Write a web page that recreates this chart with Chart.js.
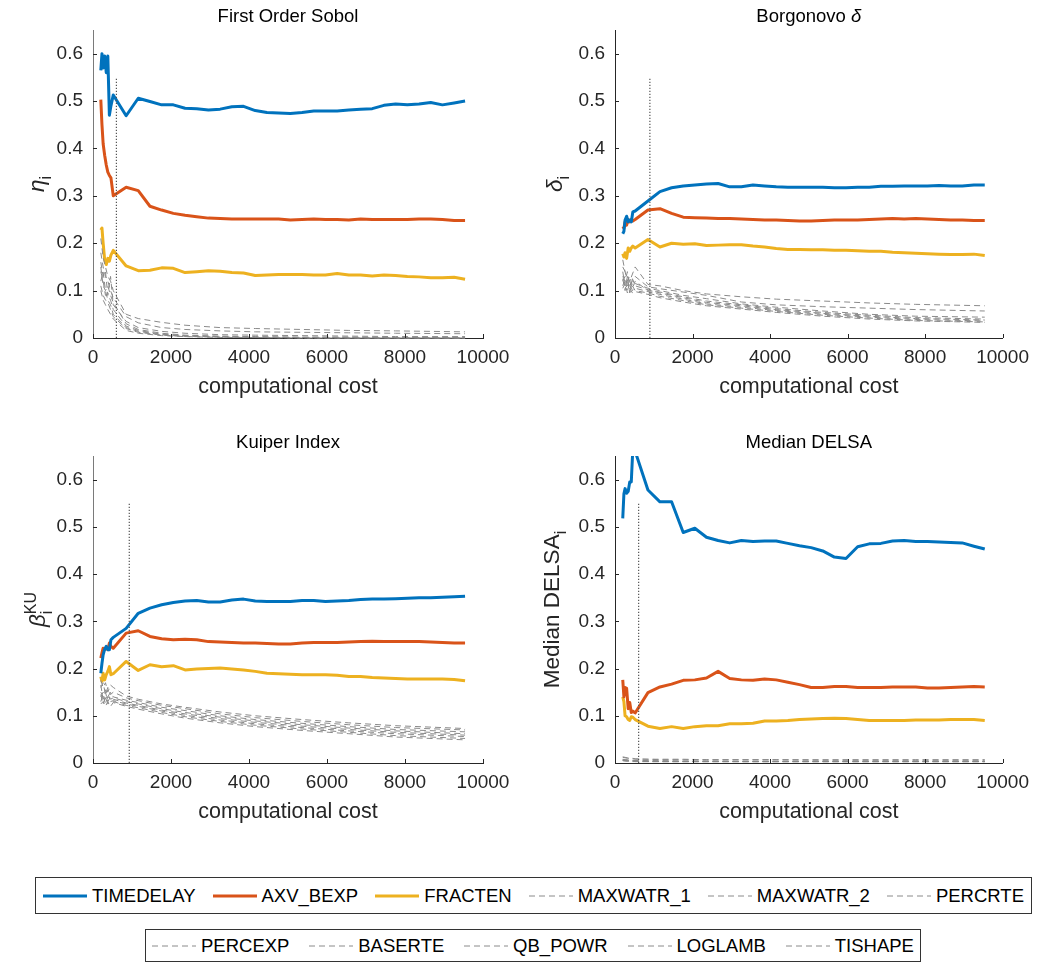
<!DOCTYPE html>
<html>
<head>
<meta charset="utf-8">
<script src="https://cdn.jsdelivr.net/npm/chart.js@4.4.1/dist/chart.umd.min.js"></script>
<style>
body { margin: 0; background: #fff; width: 1037px; height: 962px; position: relative; overflow: hidden; font-family: 'Liberation Sans', Arial, sans-serif; }
canvas { position: absolute; }
.legend { position: absolute; box-sizing: border-box; border: 1px solid #333; background: #fff; display: flex; align-items: center; justify-content: space-between; }
.item { display: flex; align-items: center; font-size: 18.5px; color: #000; white-space: nowrap; }
.item svg { margin-right: 5px; }
</style>
</head>
<body>
<canvas id="sobol"></canvas>
<canvas id="borg"></canvas>
<canvas id="kuiper"></canvas>
<canvas id="delsa"></canvas>
<div class="legend" id="legend1" style="left:35px;top:877px;width:997px;height:37px;padding:0 7px;"></div>
<div class="legend" id="legend2" style="left:145px;top:929px;width:776px;height:33px;padding:0 6px;"></div>
<script>
const FONT = "'Liberation Sans', Arial, Helvetica, sans-serif";

const NAMES = ['TIMEDELAY', 'AXV_BEXP', 'FRACTEN', 'MAXWATR_1', 'MAXWATR_2', 'PERCRTE',
               'PERCEXP', 'BASERTE', 'QB_POWR', 'LOGLAMB', 'TISHAPE'];
const MAIN_COLORS = ['#0072BD', '#D95319', '#EDB120'];
const GRAY = '#8a8a8a';

const X_TICKS = [0, 2000, 4000, 6000, 8000, 10000];
const Y_TICKS = [0, 0.1, 0.2, 0.3, 0.4, 0.5, 0.6];

// computational cost for the three main lines
const X = [200, 230, 260, 300, 340, 380, 420, 460, 520, 850, 1160, 1460, 1760, 2060, 2360, 2660, 2960, 3260, 3560, 3860,
           4160, 4460, 4760, 5060, 5360, 5660, 5960, 6260, 6560, 6860, 7160, 7460, 7760, 8060, 8360, 8660, 8960, 9260, 9540];
// coarser cost grid for the grey (other parameter) lines
const GX = [200, 260, 320, 380, 450, 520, 850, 1160, 1760, 2360, 3260, 4160, 5360, 6560, 7760, 9540];

// cost at which the dotted line is drawn, per panel
const DOT_X = [600, 900, 930, 610];
const DOT_TOP = 0.55;

// First Order Sobol
const sobolTimedelay = [0.565, 0.600, 0.570, 0.595, 0.560, 0.595, 0.470, 0.490, 0.513, 0.469, 0.506, 0.499, 0.492, 0.492, 0.485, 0.484, 0.481, 0.483, 0.488, 0.489,
                        0.480, 0.476, 0.475, 0.474, 0.476, 0.479, 0.479, 0.479, 0.481, 0.483, 0.484, 0.491, 0.494, 0.492, 0.494, 0.497, 0.492, 0.496, 0.500];
const sobolAxv = [0.503, 0.450, 0.410, 0.385, 0.365, 0.350, 0.343, 0.338, 0.300, 0.318, 0.311, 0.278, 0.270, 0.263, 0.259, 0.256, 0.253, 0.252, 0.251, 0.251,
                  0.251, 0.251, 0.251, 0.249, 0.250, 0.251, 0.250, 0.250, 0.249, 0.251, 0.250, 0.250, 0.250, 0.250, 0.251, 0.251, 0.250, 0.248, 0.248];
const sobolFracten = [0.228, 0.232, 0.200, 0.165, 0.155, 0.168, 0.162, 0.175, 0.185, 0.152, 0.142, 0.143, 0.148, 0.147, 0.138, 0.140, 0.142, 0.141, 0.138, 0.137,
                      0.132, 0.133, 0.134, 0.134, 0.134, 0.133, 0.133, 0.136, 0.133, 0.133, 0.131, 0.133, 0.132, 0.130, 0.129, 0.127, 0.127, 0.128, 0.124];
const sobolOthers = [
  [0.21, 0.17, 0.15, 0.13, 0.12, 0.10, 0.050, 0.041, 0.033, 0.027, 0.022, 0.020, 0.018, 0.016, 0.015, 0.013],
  [0.18, 0.15, 0.13, 0.12, 0.10, 0.085, 0.045, 0.032, 0.022, 0.018, 0.015, 0.013, 0.012, 0.011, 0.010, 0.009],
  [0.16, 0.13, 0.14, 0.09, 0.13, 0.07, 0.035, 0.022, 0.014, 0.010, 0.007, 0.006, 0.005, 0.004, 0.003, 0.003],
  [0.15, 0.11, 0.10, 0.11, 0.09, 0.075, 0.030, 0.018, 0.010, 0.006, 0.004, 0.003, 0.002, 0.002, 0.001, 0.001],
  [0.14, 0.12, 0.09, 0.09, 0.08, 0.06, 0.025, 0.016, 0.008, 0.005, 0.003, 0.002, 0.001, 0.001, 0.001, 0.000],
  [0.12, 0.14, 0.10, 0.08, 0.07, 0.05, 0.022, 0.014, 0.007, 0.004, 0.002, 0.001, 0.001, 0.000, 0.000, 0.000],
  [0.11, 0.09, 0.08, 0.075, 0.06, 0.045, 0.020, 0.012, 0.006, 0.003, 0.002, 0.001, 0.000, 0.000, 0.000, 0.000],
  [0.10, 0.08, 0.07, 0.06, 0.05, 0.04, 0.016, 0.010, 0.005, 0.003, 0.001, 0.001, 0.000, 0.000, 0.000, 0.000]
];

// Borgonovo delta
const borgTimedelay = [0.220, 0.225, 0.249, 0.257, 0.245, 0.249, 0.245, 0.266, 0.268, 0.289, 0.309, 0.317, 0.321, 0.323, 0.325, 0.326, 0.319, 0.319, 0.323, 0.321,
                       0.319, 0.318, 0.318, 0.318, 0.318, 0.317, 0.317, 0.318, 0.318, 0.320, 0.320, 0.321, 0.321, 0.321, 0.322, 0.321, 0.321, 0.323, 0.323];
const borgAxv = [0.235, 0.232, 0.245, 0.238, 0.250, 0.245, 0.250, 0.247, 0.250, 0.270, 0.273, 0.263, 0.255, 0.254, 0.253, 0.252, 0.252, 0.251, 0.250, 0.249,
                 0.249, 0.248, 0.247, 0.247, 0.248, 0.249, 0.249, 0.249, 0.250, 0.251, 0.252, 0.251, 0.252, 0.251, 0.250, 0.249, 0.249, 0.248, 0.248];
const borgFracten = [0.178, 0.171, 0.180, 0.168, 0.190, 0.183, 0.190, 0.194, 0.190, 0.208, 0.192, 0.200, 0.198, 0.199, 0.195, 0.196, 0.197, 0.197, 0.194, 0.192,
                     0.189, 0.187, 0.187, 0.186, 0.186, 0.185, 0.185, 0.184, 0.183, 0.183, 0.181, 0.180, 0.179, 0.178, 0.177, 0.176, 0.176, 0.177, 0.174];
const borgOthers = [
  [0.150, 0.140, 0.130, 0.120, 0.135, 0.150, 0.113, 0.110, 0.100, 0.093, 0.087, 0.082, 0.078, 0.074, 0.071, 0.068],
  [0.130, 0.120, 0.140, 0.110, 0.120, 0.130, 0.108, 0.104, 0.097, 0.090, 0.076, 0.070, 0.066, 0.063, 0.060, 0.057],
  [0.165, 0.140, 0.120, 0.130, 0.110, 0.115, 0.105, 0.100, 0.090, 0.083, 0.072, 0.065, 0.057, 0.050, 0.046, 0.044],
  [0.120, 0.130, 0.110, 0.120, 0.105, 0.120, 0.100, 0.097, 0.087, 0.078, 0.070, 0.062, 0.054, 0.048, 0.043, 0.040],
  [0.140, 0.110, 0.120, 0.100, 0.125, 0.110, 0.102, 0.095, 0.085, 0.075, 0.068, 0.060, 0.052, 0.046, 0.041, 0.038],
  [0.110, 0.125, 0.100, 0.115, 0.100, 0.105, 0.098, 0.092, 0.082, 0.072, 0.065, 0.058, 0.050, 0.044, 0.039, 0.036],
  [0.125, 0.100, 0.130, 0.095, 0.110, 0.100, 0.095, 0.088, 0.079, 0.070, 0.063, 0.056, 0.048, 0.042, 0.037, 0.034],
  [0.105, 0.115, 0.095, 0.105, 0.095, 0.098, 0.092, 0.085, 0.076, 0.068, 0.061, 0.054, 0.046, 0.040, 0.036, 0.033]
];

// Kuiper index
const kuiperTimedelay = [0.190, 0.211, 0.229, 0.241, 0.247, 0.240, 0.240, 0.261, 0.266, 0.285, 0.317, 0.328, 0.335, 0.340, 0.343, 0.344, 0.341, 0.341, 0.345, 0.347,
                         0.343, 0.342, 0.342, 0.342, 0.344, 0.344, 0.342, 0.343, 0.344, 0.346, 0.347, 0.347, 0.348, 0.349, 0.350, 0.350, 0.351, 0.352, 0.353];
const kuiperAxv = [0.222, 0.233, 0.243, 0.240, 0.243, 0.240, 0.254, 0.247, 0.243, 0.275, 0.280, 0.268, 0.263, 0.261, 0.262, 0.261, 0.257, 0.256, 0.255, 0.254,
                   0.254, 0.253, 0.252, 0.252, 0.254, 0.255, 0.255, 0.255, 0.256, 0.257, 0.258, 0.257, 0.257, 0.257, 0.257, 0.256, 0.255, 0.254, 0.254];
const kuiperFracten = [0.183, 0.173, 0.190, 0.176, 0.187, 0.194, 0.204, 0.187, 0.189, 0.215, 0.196, 0.208, 0.204, 0.206, 0.197, 0.199, 0.200, 0.201, 0.199, 0.197,
                       0.194, 0.190, 0.189, 0.188, 0.187, 0.187, 0.187, 0.186, 0.183, 0.183, 0.181, 0.180, 0.179, 0.178, 0.178, 0.178, 0.178, 0.177, 0.174];
const kuiperOthers = [
  [0.175, 0.160, 0.170, 0.150, 0.165, 0.160, 0.142, 0.135, 0.125, 0.118, 0.108, 0.100, 0.092, 0.085, 0.079, 0.073],
  [0.160, 0.170, 0.145, 0.160, 0.145, 0.150, 0.138, 0.132, 0.122, 0.115, 0.104, 0.096, 0.088, 0.081, 0.075, 0.070],
  [0.150, 0.140, 0.155, 0.140, 0.150, 0.140, 0.133, 0.128, 0.118, 0.111, 0.100, 0.092, 0.084, 0.077, 0.071, 0.066],
  [0.140, 0.150, 0.135, 0.145, 0.135, 0.138, 0.130, 0.125, 0.115, 0.107, 0.097, 0.089, 0.081, 0.074, 0.068, 0.062],
  [0.165, 0.135, 0.150, 0.130, 0.140, 0.135, 0.127, 0.122, 0.112, 0.104, 0.094, 0.086, 0.078, 0.071, 0.065, 0.059],
  [0.130, 0.145, 0.125, 0.140, 0.130, 0.132, 0.125, 0.120, 0.110, 0.101, 0.091, 0.083, 0.075, 0.068, 0.062, 0.056],
  [0.145, 0.125, 0.140, 0.125, 0.128, 0.130, 0.122, 0.117, 0.107, 0.098, 0.088, 0.080, 0.072, 0.065, 0.058, 0.052],
  [0.125, 0.130, 0.120, 0.130, 0.120, 0.128, 0.120, 0.114, 0.104, 0.095, 0.085, 0.077, 0.069, 0.062, 0.055, 0.049]
];

// Median DELSA
const delsaTimedelay = [0.518, 0.570, 0.581, 0.571, 0.575, 0.595, 0.595, 0.665, 0.660, 0.578, 0.553, 0.553, 0.488, 0.497, 0.478, 0.471, 0.466, 0.471, 0.469, 0.470,
                        0.470, 0.465, 0.460, 0.456, 0.449, 0.436, 0.433, 0.458, 0.464, 0.465, 0.470, 0.471, 0.469, 0.469, 0.468, 0.467, 0.466, 0.459, 0.453];
const delsaAxv = [0.176, 0.140, 0.160, 0.158, 0.115, 0.128, 0.107, 0.110, 0.106, 0.149, 0.161, 0.167, 0.175, 0.176, 0.180, 0.194, 0.179, 0.176, 0.175, 0.178,
                  0.176, 0.171, 0.166, 0.160, 0.160, 0.162, 0.162, 0.160, 0.160, 0.160, 0.161, 0.161, 0.161, 0.159, 0.159, 0.160, 0.161, 0.162, 0.161];
const delsaFracten = [0.140, 0.130, 0.100, 0.098, 0.092, 0.090, 0.098, 0.097, 0.092, 0.078, 0.073, 0.077, 0.073, 0.077, 0.079, 0.079, 0.083, 0.083, 0.084, 0.089,
                      0.089, 0.090, 0.092, 0.093, 0.094, 0.095, 0.094, 0.092, 0.090, 0.090, 0.090, 0.090, 0.091, 0.091, 0.091, 0.092, 0.092, 0.092, 0.090];
const delsaOthers = [
  [0.013, 0.012, 0.011, 0.010, 0.010, 0.009, 0.008, 0.008, 0.008, 0.007, 0.007, 0.007, 0.007, 0.007, 0.007, 0.007],
  [0.012, 0.011, 0.010, 0.009, 0.009, 0.008, 0.008, 0.007, 0.007, 0.007, 0.007, 0.007, 0.006, 0.006, 0.006, 0.006],
  [0.008, 0.007, 0.007, 0.006, 0.006, 0.005, 0.005, 0.005, 0.004, 0.004, 0.004, 0.004, 0.004, 0.004, 0.004, 0.004],
  [0.007, 0.006, 0.006, 0.005, 0.005, 0.005, 0.004, 0.004, 0.004, 0.004, 0.003, 0.003, 0.003, 0.003, 0.003, 0.003],
  [0.006, 0.006, 0.005, 0.005, 0.004, 0.004, 0.004, 0.003, 0.003, 0.003, 0.003, 0.003, 0.003, 0.003, 0.003, 0.003],
  [0.006, 0.005, 0.005, 0.004, 0.004, 0.004, 0.003, 0.003, 0.003, 0.003, 0.003, 0.003, 0.003, 0.003, 0.003, 0.003],
  [0.005, 0.005, 0.004, 0.004, 0.004, 0.003, 0.003, 0.003, 0.003, 0.003, 0.003, 0.003, 0.003, 0.003, 0.003, 0.003],
  [0.005, 0.004, 0.004, 0.004, 0.003, 0.003, 0.003, 0.003, 0.003, 0.003, 0.003, 0.003, 0.003, 0.003, 0.003, 0.003]
];

// draws a short text made of parts (italic / subscript / superscript), optionally rotated
function drawRich(ctx, parts, cx, cy, size, vertical, color) {
    const small = Math.round(size * 0.72);
    let width = 0, prevStart = 0;
    const items = parts.map(p => {
        ctx.font = (p.it ? 'italic ' : '') + ((p.sub || p.sup) ? small : size) + 'px ' + FONT;
        const w = ctx.measureText(p.t).width;
        const start = p.stack ? prevStart : width;
        const dy = p.sub ? size * 0.3 : (p.sup ? -size * 0.42 : 0);
        width = Math.max(width, start + w);
        prevStart = start;
        return { t: p.t, font: ctx.font, start, dy };
    });
    ctx.save();
    ctx.translate(cx, cy);
    if (vertical) ctx.rotate(-Math.PI / 2);
    ctx.fillStyle = color;
    ctx.textBaseline = 'alphabetic';
    ctx.textAlign = 'left';
    items.forEach(it => {
        ctx.font = it.font;
        ctx.fillText(it.t, it.start - width / 2, it.dy + size * 0.36);
    });
    ctx.restore();
}

const decor = {
    id: 'decor',
    afterDraw(chart, args, opts) {
        const { ctx, chartArea: a, scales } = chart;
        ctx.save();
        ctx.strokeStyle = '#262626';
        ctx.lineWidth = 1;
        ctx.beginPath();
        X_TICKS.forEach(v => {
            const px = Math.round(scales.x.getPixelForValue(v)) + 0.5;
            ctx.moveTo(px, a.bottom);
            ctx.lineTo(px, a.bottom - 4);
        });
        Y_TICKS.forEach(v => {
            const py = Math.round(scales.y.getPixelForValue(v)) + 0.5;
            ctx.moveTo(a.left, py);
            ctx.lineTo(a.left + 4, py);
        });
        ctx.stroke();
        ctx.restore();
        drawRich(ctx, opts.title, (a.left + a.right) / 2, a.top - 15, 18.5, false, '#000');
        drawRich(ctx, opts.ylabel, a.left - opts.labelGap, (a.top + a.bottom) / 2, 22.5, true, '#262626');
    }
};

function lineData(xs, vals) {
    return xs.map((x, i) => ({ x, y: vals[i] }));
}

function makePanel(id, pos, main, others, dotX, title, ylabel, axisColor) {
    const canvas = document.getElementById(id);
    canvas.width = pos.w;
    canvas.height = pos.h;
    canvas.style.left = pos.left + 'px';
    canvas.style.top = pos.top + 'px';
    canvas.style.width = pos.w + 'px';
    canvas.style.height = pos.h + 'px';

    const clip = { left: 4, top: 0, right: 4, bottom: 3 };
    const datasets = [{
        data: [{ x: dotX, y: 0 }, { x: dotX, y: DOT_TOP }],
        borderColor: '#555', borderWidth: 1.2, borderDash: [1.2, 1.8], clip
    }];
    others.forEach(vals => datasets.push({
        data: lineData(GX, vals), borderColor: GRAY, borderWidth: 1, borderDash: [6, 4], clip
    }));
    main.forEach((vals, i) => datasets.push({
        data: lineData(X, vals), borderColor: MAIN_COLORS[i], borderWidth: 3, clip
    }));

    const tickFont = { family: FONT, size: 19 };
    new Chart(canvas, {
        type: 'line',
        data: { datasets },
        options: {
            responsive: false,
            animation: false,
            devicePixelRatio: 1,
            layout: { padding: pos.pad },
            elements: { point: { radius: 0 }, line: { tension: 0, borderCapStyle: 'butt', borderJoinStyle: 'round' } },
            plugins: {
                legend: { display: false },
                tooltip: { enabled: false },
                decor: { title, ylabel, labelGap: pos.labelGap }
            },
            scales: {
                x: {
                    type: 'linear', min: 0, max: 10000,
                    afterBuildTicks: s => { s.ticks = X_TICKS.map(v => ({ value: v })); },
                    afterFit: s => { s.height = 62; },
                    grid: { display: false, drawTicks: false },
                    border: { display: true, color: '#262626', width: 1 },
                    ticks: { padding: 8, color: '#262626', font: tickFont, maxRotation: 0, autoSkip: false, callback: v => String(v) },
                    title: { display: true, text: 'computational cost', color: '#262626', font: { family: FONT, size: 21.5 }, padding: { top: 0, bottom: 0 } }
                },
                y: {
                    type: 'linear', min: 0, max: 0.65,
                    afterBuildTicks: s => { s.ticks = Y_TICKS.map(v => ({ value: v })); },
                    afterFit: s => { s.width = pos.yw; },
                    grid: { display: false, drawTicks: false },
                    border: { display: true, color: axisColor, width: 1 },
                    ticks: { padding: 10, color: '#262626', font: tickFont, callback: v => String(v) }
                }
            }
        },
        plugins: [decor]
    });
}

makePanel('sobol', { left: 0, top: 0, w: 518, h: 420, yw: 93, labelGap: 57, pad: { left: 0, top: 30, right: 35, bottom: 20 } },
    [sobolTimedelay, sobolAxv, sobolFracten], sobolOthers, DOT_X[0],
    [{ t: 'First Order Sobol' }], [{ t: 'η', it: 1 }, { t: 'i', sub: 1 }], '#7a7a7a');

makePanel('borg', { left: 518, top: 0, w: 519, h: 420, yw: 97, labelGap: 61, pad: { left: 0, top: 30, right: 34, bottom: 20 } },
    [borgTimedelay, borgAxv, borgFracten], borgOthers, DOT_X[1],
    [{ t: 'Borgonovo ' }, { t: 'δ', it: 1 }], [{ t: 'δ', it: 1 }, { t: 'i', sub: 1 }], '#262626');

makePanel('kuiper', { left: 0, top: 420, w: 518, h: 442, yw: 93, labelGap: 56, pad: { left: 0, top: 36, right: 35, bottom: 37 } },
    [kuiperTimedelay, kuiperAxv, kuiperFracten], kuiperOthers, DOT_X[2],
    [{ t: 'Kuiper Index' }], [{ t: 'β', it: 1 }, { t: 'i', sub: 1 }, { t: 'KU', sup: 1, stack: 1 }], '#7a7a7a');

makePanel('delsa', { left: 518, top: 420, w: 519, h: 442, yw: 97, labelGap: 64, pad: { left: 0, top: 36, right: 34, bottom: 37 } },
    [delsaTimedelay, delsaAxv, delsaFracten], delsaOthers, DOT_X[3],
    [{ t: 'Median DELSA' }], [{ t: 'Median DELSA' }, { t: 'i', sub: 1 }], '#262626');

// legend in two boxes
function legendItem(name, i) {
    const el = document.createElement('span');
    el.className = 'item';
    const main = i < MAIN_COLORS.length;
    const stroke = main ? MAIN_COLORS[i] : GRAY;
    el.innerHTML = '<svg width="44" height="10"><line x1="0" y1="5" x2="44" y2="5" stroke="' + stroke + '" stroke-width="' +
        (main ? 3 : 1) + '"' + (main ? '' : ' stroke-dasharray="6 4"') + '/></svg>' + name;
    return el;
}
NAMES.forEach((name, i) => {
    document.getElementById(i < 6 ? 'legend1' : 'legend2').appendChild(legendItem(name, i));
});
</script>
</body>
</html>
